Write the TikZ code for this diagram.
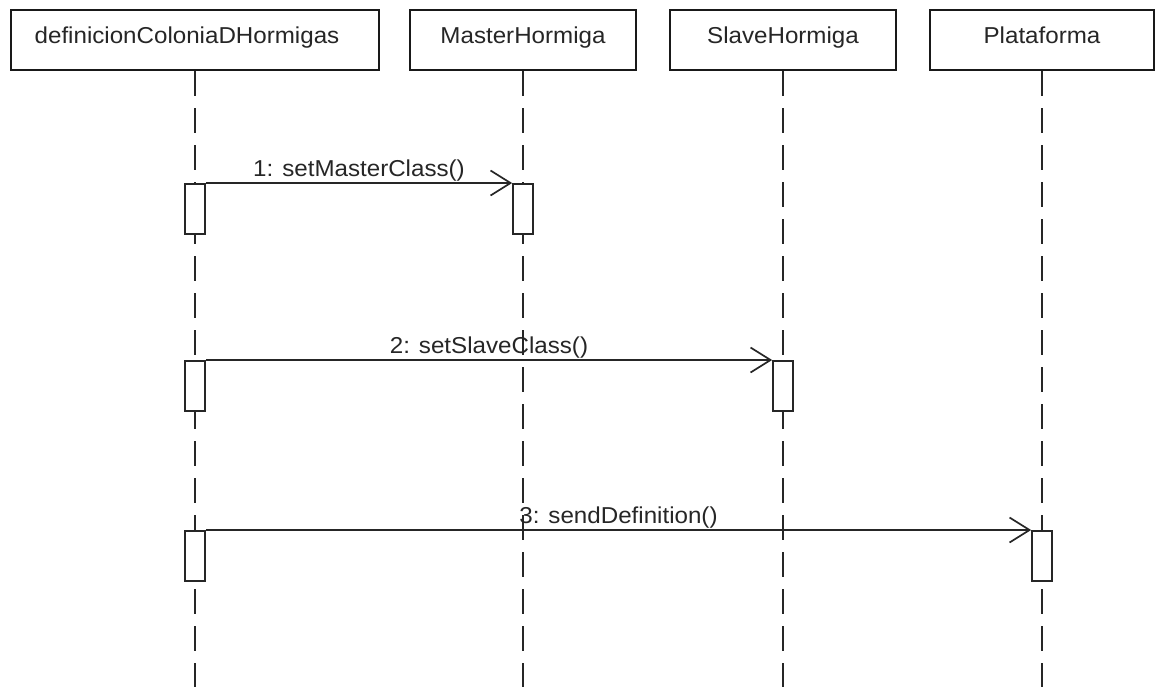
\documentclass[tikz,border=0pt]{standalone}
\usepackage{fontspec}
\setmainfont{Liberation Sans}[FakeStretch=1.05]
\usetikzlibrary{arrows.meta}
\begin{document}
\begin{tikzpicture}[x=1pt,y=-1pt,
  head/.style={draw=black!90, line width=2.8pt, fill=white, minimum width=#1,
    minimum height=60pt, inner sep=0pt, text height=16pt, text depth=10pt,
    font=\fontsize{23}{26}\selectfont, text=black!85},
  life/.style={draw=black!85, line width=1.7pt, dash pattern=on 25pt off 12pt},
  act/.style={draw=black!85, line width=1.7pt, fill=white, minimum width=20pt,
    minimum height=50pt, inner sep=0pt, anchor=north},
  msg/.style={draw=black!85, line width=1.7pt,
    -{Straight Barb[length=20pt,width=25pt,line width=1.7pt]}},
  lbl/.style={font=\fontsize{23}{26}\selectfont, text=black!85, anchor=base,
    inner sep=0pt, yshift=7pt}
]
\useasboundingbox (0,0) rectangle (1155,686);

% class heads
\node[head=368pt] (c1) at (195,40) {definicionColoniaDHormigas\hspace*{16pt}};
\node[head=226pt] (c2) at (523,40) {MasterHormiga};
\node[head=226pt] (c3) at (783,40) {SlaveHormiga};
\node[head=224pt] (c4) at (1042,40) {Plataforma};

% lifelines
\coordinate (e1) at (c1.south |- 0,690);
\coordinate (e2) at (c2.south |- 0,690);
\coordinate (e3) at (c3.south |- 0,690);
\coordinate (e4) at (c4.south |- 0,690);
\draw[life] (c1.south) -- (e1);
\draw[life] (c2.south) -- (e2);
\draw[life] (c3.south) -- (e3);
\draw[life] (c4.south) -- (e4);

% activation bars
\node[act] (s1) at (c1.south |- 0,183) {};
\node[act] (t1) at (c2.south |- 0,183) {};
\node[act] (s2) at (c1.south |- 0,360) {};
\node[act] (t2) at (c3.south |- 0,360) {};
\node[act] (s3) at (c1.south |- 0,530) {};
\node[act] (t3) at (c4.south |- 0,530) {};

% messages
\draw[msg] (s1.north east) -- (t1.north west) node[lbl, midway] (m1) {1: setMasterClass()};
\draw[msg] (s2.north east) -- (t2.north west) node[lbl, midway] (m2) {2: setSlaveClass()};
\draw[msg] (s3.north east) -- (t3.north west) node[lbl, midway] (m3) {3: sendDefinition()};
\end{tikzpicture}
\end{document}
